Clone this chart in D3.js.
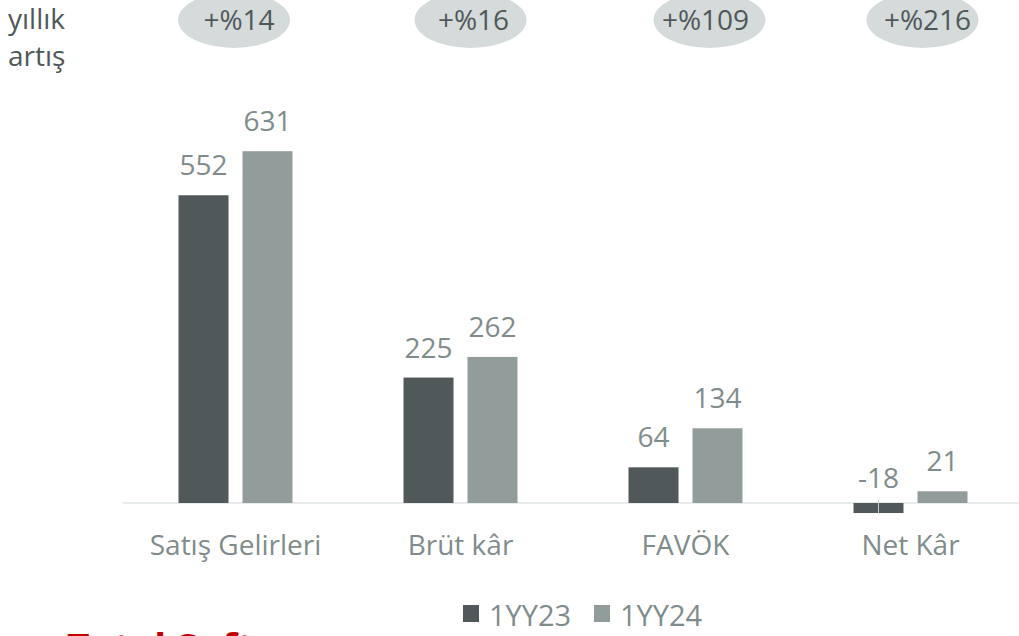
<!DOCTYPE html>
<html>
<head>
<meta charset="utf-8">
<script src="https://cdn.jsdelivr.net/npm/d3@7"></script>
<style>
  html, body { margin: 0; padding: 0; background: #fff; }
  svg { display: block; }
</style>
</head>
<body>
<div id="chart"></div>
<script>
(function () {
    const categories = ["Satış Gelirleri", "Brüt kâr", "FAVÖK", "Net Kâr"];
    const seriesNames = ["1YY23", "1YY24"];
    const values23 = [552, 225, 64, -18];
    const values24 = [631, 262, 134, 21];
    const growthLabels = ["+%14", "+%16", "+%109", "+%216"];

    const colors = { "1YY23": "#505859", "1YY24": "#929c9b" };
    const labelColor = "#7f8c8b";
    const darkText = "#4f5859";
    const font = "'Open Sans', sans-serif";

    const width = 1019, height = 636;

    const svg = d3.select("#chart").append("svg")
        .attr("width", width)
        .attr("height", height);

    const x = d3.scaleBand().domain(categories).range([123, 1023]).padding(0);
    const xInner = d3.scaleBand().domain(seriesNames).range([0, 114]).paddingInner(0.21875);
    const y = d3.scaleLinear().domain([0, 700]).range([503, 503 - 700 * 0.5575]);

    const rows = categories.map((c, i) => ({
        cat: c,
        items: [
            { s: "1YY23", v: values23[i] },
            { s: "1YY24", v: values24[i] },
        ],
    }));

    // baseline
    svg.append("line")
        .attr("x1", 123).attr("x2", 1019)
        .attr("y1", y(0)).attr("y2", y(0))
        .attr("stroke", "#e1e4e4").attr("stroke-width", 1.5);

    const groups = svg.append("g").selectAll("g")
        .data(rows)
        .join("g")
        .attr("transform", d => `translate(${x(d.cat) + (x.bandwidth() - 114) / 2},0)`);

    groups.selectAll("rect")
        .data(d => d.items)
        .join("rect")
        .attr("x", d => xInner(d.s))
        .attr("width", xInner.bandwidth())
        .attr("y", d => y(Math.max(0, d.v)))
        .attr("height", d => Math.abs(y(d.v) - y(0)))
        .attr("fill", d => colors[d.s]);

    // little tick across negative bars
    groups.selectAll("line.neg")
        .data(d => d.items.filter(it => it.v < 0))
        .join("line")
        .attr("class", "neg")
        .attr("x1", d => xInner(d.s) + xInner.bandwidth() / 2)
        .attr("x2", d => xInner(d.s) + xInner.bandwidth() / 2)
        .attr("y1", y(0) - 3)
        .attr("y2", d => y(d.v))
        .attr("stroke", "#c8cccc").attr("stroke-width", 1);

    groups.selectAll("text.val")
        .data(d => d.items)
        .join("text")
        .attr("class", "val")
        .attr("x", d => xInner(d.s) + xInner.bandwidth() / 2)
        .attr("y", d => d.v >= 0 ? y(d.v) - 20 : y(0) - 15)
        .attr("text-anchor", "middle")
        .attr("font-family", font)
        .attr("font-size", 28)
        .attr("fill", labelColor)
        .text(d => d.v);

    // category labels
    svg.append("g").selectAll("text")
        .data(categories)
        .join("text")
        .attr("x", d => x(d) + x.bandwidth() / 2)
        .attr("y", 555)
        .attr("text-anchor", "middle")
        .attr("font-family", font)
        .attr("font-size", 28)
        .attr("fill", labelColor)
        .text(d => d);

    // growth badges (slightly off-centre, as in the slide)
    const badgeShift = [-1.5, 10, 24, 12];
    const badgeTextShift = [5, 3, -4, 5];
    const badges = svg.append("g").selectAll("g")
        .data(growthLabels)
        .join("g")
        .attr("transform", (d, i) => `translate(${x(categories[i]) + x.bandwidth() / 2 + badgeShift[i]},20)`);
    badges.append("ellipse")
        .attr("rx", 56).attr("ry", 28)
        .attr("fill", "#d5dbdb");
    badges.append("text")
        .attr("x", (d, i) => badgeTextShift[i]).attr("y", 10)
        .attr("text-anchor", "middle")
        .attr("font-family", font)
        .attr("font-size", 28)
        .attr("fill", darkText)
        .text(d => d);

    svg.append("text")
        .attr("x", 8).attr("y", 29)
        .attr("font-family", font).attr("font-size", 28)
        .attr("fill", darkText)
        .text("yıllık");
    svg.append("text")
        .attr("x", 8).attr("y", 66)
        .attr("font-family", font).attr("font-size", 28)
        .attr("fill", darkText)
        .text("artış");

    // legend
    const legendX = [463, 594];
    const legend = svg.append("g").selectAll("g")
        .data(seriesNames)
        .join("g")
        .attr("transform", (d, i) => `translate(${legendX[i]},605)`);
    legend.append("rect")
        .attr("width", 16).attr("height", 17)
        .attr("fill", d => colors[d]);
    legend.append("text")
        .attr("x", 26).attr("y", 21)
        .attr("font-family", font).attr("font-size", 29)
        .attr("fill", labelColor)
        .text(d => d);

    // cropped footer title
    svg.append("text")
        .attr("x", 67).attr("y", 662)
        .attr("font-family", font).attr("font-size", 39).attr("font-weight", 700)
        .attr("fill", "#c00000")
        .text("Total Soft");
})();
</script>
</body>
</html>
